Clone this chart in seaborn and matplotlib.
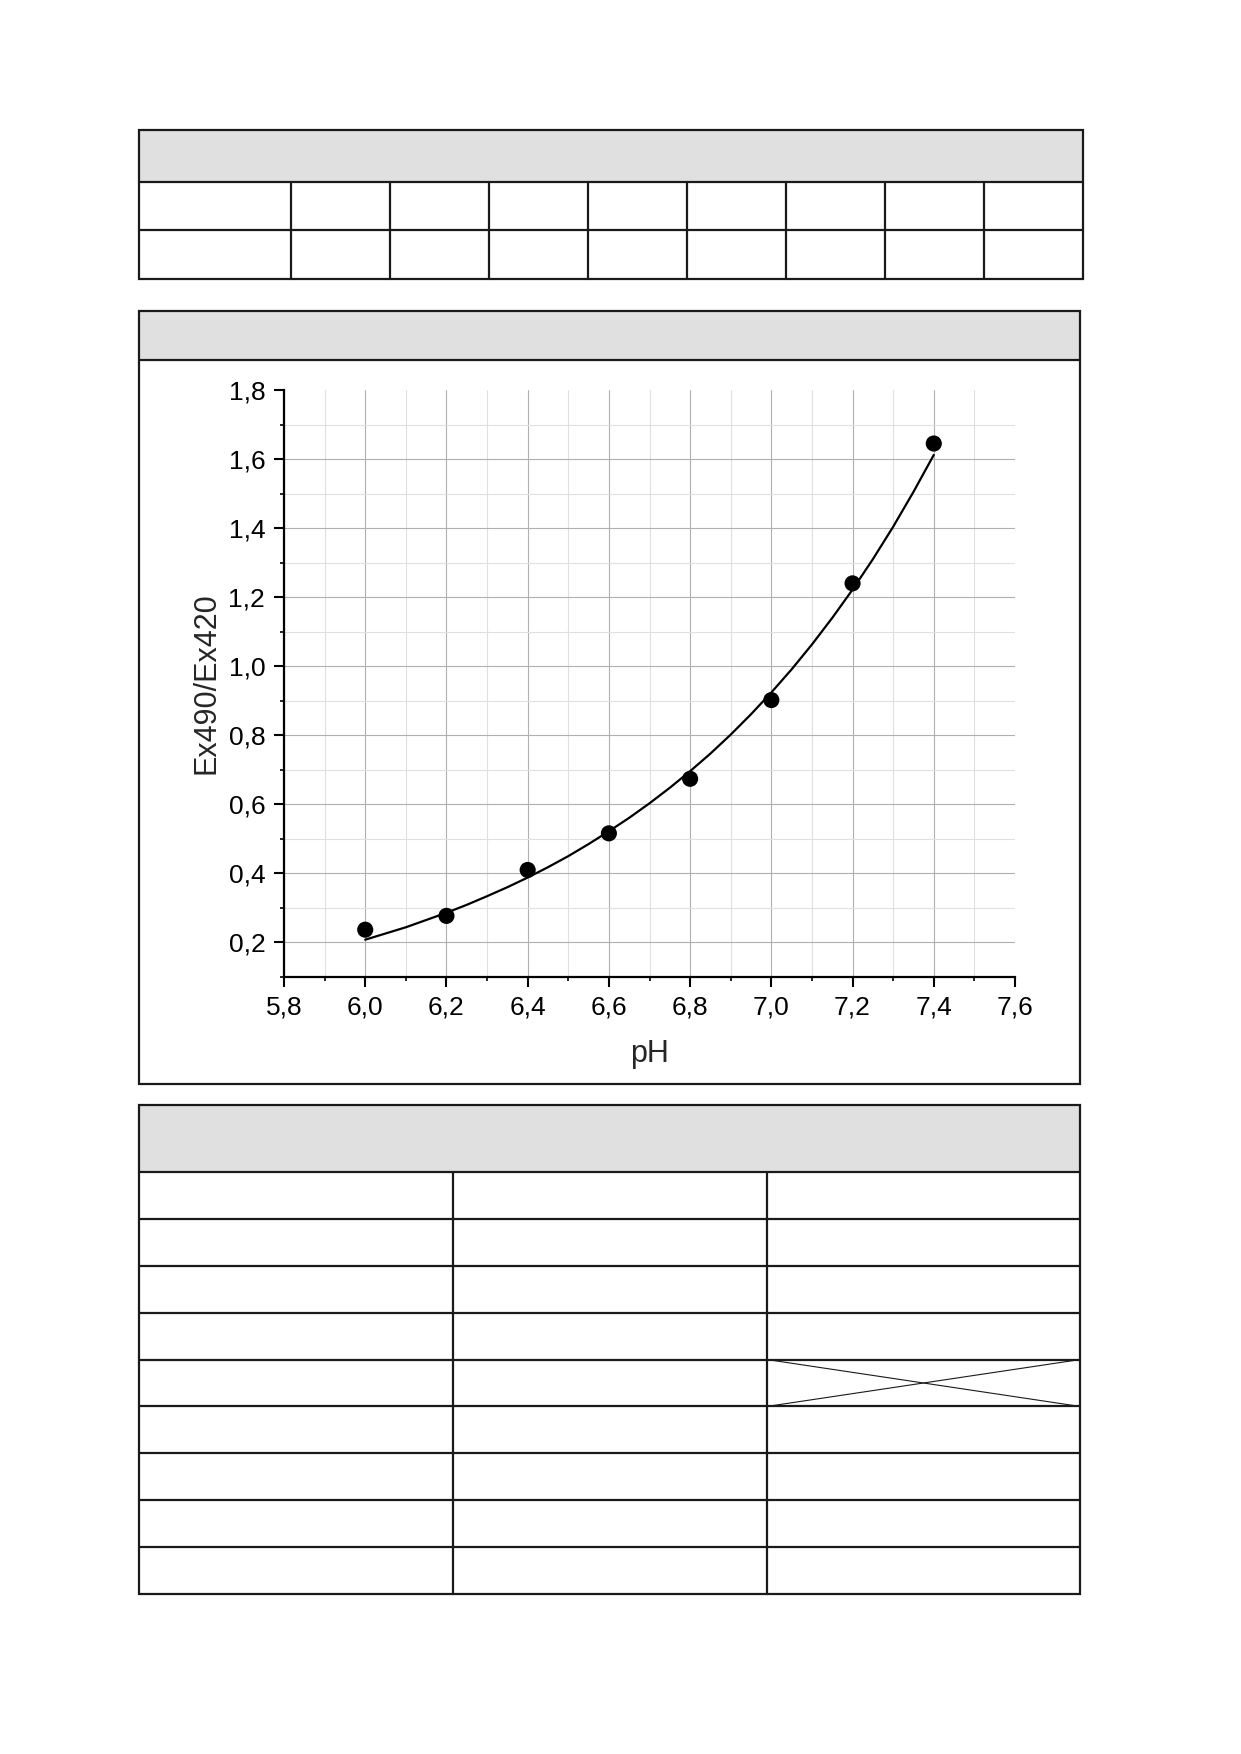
import numpy as np
import pandas as pd
import matplotlib
matplotlib.use("Agg")
import matplotlib.pyplot as plt
import seaborn as sns
from matplotlib.ticker import MultipleLocator, FuncFormatter
from matplotlib.patches import Rectangle

# =========================
# DATA
# =========================

ph = [6.0, 6.2, 6.4, 6.6, 6.8, 7.0, 7.2, 7.4]
ratio = [0.237, 0.277, 0.410, 0.516, 0.674, 0.902, 1.240, 1.645]

# fitted curve, every 0.05 pH
fit_ph = [6.00, 6.05, 6.10, 6.15, 6.20, 6.25, 6.30, 6.35, 6.40, 6.45,
          6.50, 6.55, 6.60, 6.65, 6.70, 6.75, 6.80, 6.85, 6.90, 6.95,
          7.00, 7.05, 7.10, 7.15, 7.20, 7.25, 7.30, 7.35, 7.40]
fit_ratio = [0.208, 0.226, 0.244, 0.265, 0.286, 0.309, 0.334, 0.360, 0.388, 0.418,
             0.450, 0.485, 0.522, 0.561, 0.603, 0.648, 0.696, 0.747, 0.802, 0.861,
             0.924, 0.991, 1.063, 1.140, 1.222, 1.310, 1.404, 1.505, 1.612]

x_label = "pH"
y_label = "Ex490/Ex420"

points = pd.DataFrame({"pH": ph, "ratio": ratio})
curve = pd.DataFrame({"pH": fit_ph, "ratio": fit_ratio})

# =========================
# STYLE
# =========================

sns.set_style("white")
plt.rcParams["font.family"] = ["Liberation Sans", "DejaVu Sans"]

W, H = 1241, 1754
fig = plt.figure(figsize=(W / 100, H / 100), dpi=100)

# =========================
# PAGE FRAMES (pixel coordinates)
# =========================

page = fig.add_axes([0, 0, 1, 1], zorder=0)
page.set_xlim(0, W)
page.set_ylim(H, 0)
page.axis("off")

edge = "#1a1a1a"
head = "#e0e0e0"
lw = 1.6


def frame(x0, y0, x1, y1, head_bottom):
    page.add_patch(Rectangle((x0, y0), x1 - x0, head_bottom - y0,
                             facecolor=head, edgecolor="none"))
    page.add_patch(Rectangle((x0, y0), x1 - x0, y1 - y0,
                             facecolor="none", edgecolor=edge, lw=lw))
    page.plot([x0, x1], [head_bottom, head_bottom], color=edge, lw=lw)


# top table
frame(139, 130, 1083, 279, 182)
page.plot([139, 1083], [230, 230], color=edge, lw=lw)
for k in range(8):
    cx = 291 + 99 * k
    page.plot([cx, cx], [182, 279], color=edge, lw=lw)

# chart box
frame(139, 311, 1080, 1084, 360)

# bottom table
t_top, t_bot = 1172, 1594
frame(139, 1105, 1080, t_bot, t_top)
row_h = (t_bot - t_top) / 9
for r in range(1, 9):
    ry = t_top + r * row_h
    page.plot([139, 1080], [ry, ry], color=edge, lw=lw)
for cx in [453, 767]:
    page.plot([cx, cx], [t_top, t_bot], color=edge, lw=lw)
cy0, cy1 = t_top + 4 * row_h, t_top + 5 * row_h
page.plot([767, 1080], [cy0, cy1], color=edge, lw=0.8)
page.plot([767, 1080], [cy1, cy0], color=edge, lw=0.8)

# =========================
# CHART
# =========================

ax = fig.add_axes([284 / W, 1 - 977 / H, (1015 - 284) / W, (977 - 390) / H], zorder=1)
ax.set_facecolor("none")

sns.lineplot(data=curve, x="pH", y="ratio", color="black", linewidth=1.6,
             sort=False, ax=ax, zorder=3)
sns.scatterplot(data=points, x="pH", y="ratio", color="black", s=135,
                edgecolor="none", ax=ax, zorder=4)

ax.set_xlim(5.8, 7.6)
ax.set_ylim(0.1, 1.8)

ax.xaxis.set_major_locator(MultipleLocator(0.2))
ax.xaxis.set_minor_locator(MultipleLocator(0.1))
ax.yaxis.set_major_locator(MultipleLocator(0.2))
ax.yaxis.set_minor_locator(MultipleLocator(0.1))

comma = FuncFormatter(lambda v, p: f"{v:.1f}".replace(".", ","))
ax.xaxis.set_major_formatter(comma)
ax.yaxis.set_major_formatter(comma)

ax.grid(True, which="major", color="#b0b0b0", linewidth=0.8)
ax.grid(True, which="minor", color="#e0e0e0", linewidth=0.8)
ax.set_axisbelow(True)

for s in ["top", "right"]:
    ax.spines[s].set_visible(False)
for s in ["left", "bottom"]:
    ax.spines[s].set_color("black")
    ax.spines[s].set_linewidth(1.6)

ax.tick_params(which="major", direction="out", length=7.5, width=1.5,
               labelsize=19, colors="black", pad=6,
               left=True, bottom=True)
ax.tick_params(which="minor", direction="out", length=3, width=1.2,
               colors="black", left=True, bottom=True)

ax.set_xlabel(x_label, fontsize=22, labelpad=14)
ax.set_ylabel(y_label, fontsize=22, labelpad=5)

fig.canvas.draw()
# no grid lines on the outer limits
for gl in ax.xaxis.get_gridlines():
    if abs(gl.get_xdata()[0] - 7.6) < 1e-6:
        gl.set_visible(False)
for gl in ax.yaxis.get_gridlines():
    if abs(gl.get_ydata()[0] - 1.8) < 1e-6:
        gl.set_visible(False)

plt.savefig("out.png", dpi=100)
